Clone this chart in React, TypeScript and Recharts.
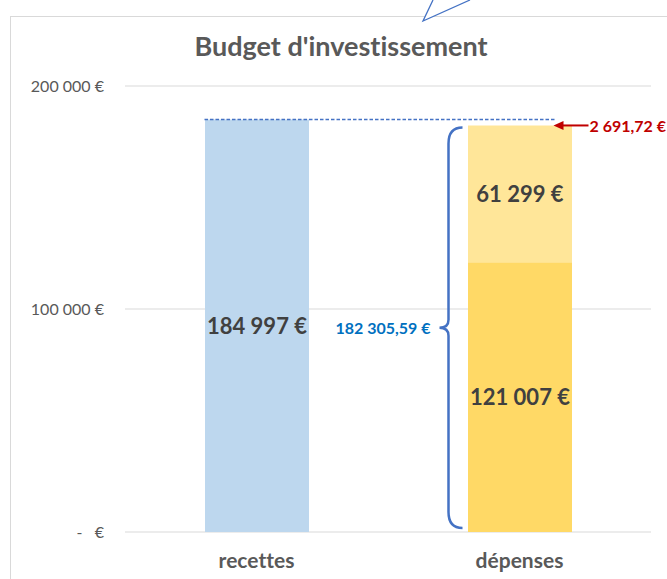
import React from "react";
import {
  BarChart, Bar, XAxis, YAxis, CartesianGrid, LabelList, ReferenceLine,
} from "recharts";

const categories = ["recettes", "dépenses"];
const recettes = [184997.31, null];
const depensesRealisees = [null, 121006.59];
const depensesRestantes = [null, 61299];
const totalDepenses = 182305.59;
const ecart = 2691.72;
const yTicks = [0, 100000, 200000];

const FONT = "Lato, 'Noto Sans', sans-serif";
const BAR_SIZE = 104;

const chartData = categories.map((cat, i) => ({
  cat,
  recettes: recettes[i],
  realisees: depensesRealisees[i],
  restantes: depensesRestantes[i],
}));

const spaced = (n: number) => n.toString().replace(/\B(?=(\d{3})+(?!\d))/g, " ");

const formatEuro = (v: unknown) => {
  if (v == null || v === 0) return "";
  return `${spaced(Math.round(Number(v)))} €`;
};

const formatDecimal = (v: number) => {
  const [int, dec] = v.toFixed(2).split(".");
  return `${spaced(Number(int))},${dec} €`;
};

// Excel accounting style: zero shows as a dash
const formatTick = (v: number) => (v === 0 ? "-\u00a0\u00a0\u00a0€" : `${spaced(v)} €`);

// dotted line from the top of "recettes" across to "dépenses"
const DashedLink = (p: any) => (
  <line x1={p.x1 - BAR_SIZE / 2} y1={p.y1} x2={p.x2 + 36} y2={p.y2}
    stroke="#4472c4" strokeWidth={1.6} strokeDasharray="3.5 2" />
);

// curly brace to the left of the "dépenses" stack
const Brace = (p: any) => {
  const x = p.x1 - BAR_SIZE / 2 - 19;
  const top = Math.min(p.y1, p.y2) + 2;
  const bottom = Math.max(p.y1, p.y2) - 4;
  const mid = (top + bottom) / 2;
  const d = `M ${x + 14} ${top} Q ${x} ${top} ${x} ${top + 16} L ${x} ${mid - 8} Q ${x} ${mid} ${x - 9} ${mid} Q ${x} ${mid} ${x} ${mid + 8} L ${x} ${bottom - 16} Q ${x} ${bottom} ${x + 14} ${bottom}`;
  return (
    <g>
      <path d={d} fill="none" stroke="#4472c4" strokeWidth={2.5} />
      <text x={x - 18} y={mid} textAnchor="end" dominantBaseline="central"
        fill="#0070c0" fontFamily={FONT} fontWeight="bold" fontSize={16}>
        {formatDecimal(totalDepenses)}
      </text>
    </g>
  );
};

// red arrow pointing at the top of "dépenses" with the gap
const GapArrow = (p: any) => {
  const tip = p.x1 + 34;
  const y = p.y1;
  return (
    <g>
      <line x1={tip + 4} y1={y} x2={tip + 35} y2={y} stroke="#c00000" strokeWidth={2} />
      <path d={`M ${tip} ${y} L ${tip + 10} ${y - 4.5} L ${tip + 10} ${y + 4.5} Z`} fill="#c00000" />
      <text x={tip + 36} y={y} dominantBaseline="central" fill="#c00000"
        fontFamily={FONT} fontWeight="bold" fontSize={16}>
        {formatDecimal(ecart)}
      </text>
    </g>
  );
};

export default function App() {
  return (
    <div style={{
      position: "absolute", left: 0, top: 0, width: 667, height: 579, background: "#fff",
      fontFamily: FONT, overflow: "hidden", fontVariantLigatures: "none",
    }}>
      <div style={{
        position: "absolute", left: 10, top: 16, width: 680, height: 600,
        borderLeft: "1px solid #d9d9d9", borderTop: "1px solid #d9d9d9",
      }} />
      <svg width={667} height={30} style={{ position: "absolute", left: 0, top: 0 }}>
        <path d="M 433 0 L 423 21 L 470 0" fill="#fff" stroke="#4472c4" strokeWidth={1.3} />
      </svg>
      <div style={{
        position: "absolute", left: 10, width: 662, top: 29, textAlign: "center",
        fontSize: 27, lineHeight: "34px", fontWeight: "bold", color: "#595959",
      }}>
        Budget d'investissement
      </div>
      <div style={{ position: "absolute", left: 0, top: 0 }}>
        <BarChart width={667} height={579} data={chartData}
          margin={{ top: 86, right: 16, bottom: 0, left: 0 }} barSize={BAR_SIZE}>
          <CartesianGrid vertical={false} stroke="#d9d9d9" />
          <XAxis dataKey="cat" height={47} axisLine={false} tickLine={false} tickSize={0} tickMargin={21}
            tick={{ fontSize: 21, fontWeight: "bold", fill: "#595959", fontFamily: FONT }} />
          <YAxis width={125} domain={[0, 200000]} ticks={yTicks} axisLine={false} tickLine={false}
            tickSize={0} tickMargin={21} tickFormatter={formatTick}
            tick={{ fontSize: 16, fill: "#595959", fontFamily: FONT }} />
          <Bar dataKey="recettes" stackId="s" fill="#bdd7ee" isAnimationActive={false}>
            <LabelList dataKey="recettes" position="center" formatter={formatEuro}
              fill="#404040" fontSize={22} fontWeight="bold" fontFamily={FONT} />
          </Bar>
          <Bar dataKey="realisees" stackId="s" fill="#ffd966" isAnimationActive={false}>
            <LabelList dataKey="realisees" position="center" formatter={formatEuro}
              fill="#404040" fontSize={22} fontWeight="bold" fontFamily={FONT} />
          </Bar>
          <Bar dataKey="restantes" stackId="s" fill="#ffe699" isAnimationActive={false}>
            <LabelList dataKey="restantes" position="center" formatter={formatEuro}
              fill="#404040" fontSize={22} fontWeight="bold" fontFamily={FONT} />
          </Bar>
          <ReferenceLine ifOverflow="visible"
            segment={[{ x: "recettes", y: recettes[0] }, { x: "dépenses", y: recettes[0] }]}
            shape={DashedLink} />
          <ReferenceLine ifOverflow="visible"
            segment={[{ x: "dépenses", y: 0 }, { x: "dépenses", y: totalDepenses }]}
            shape={Brace} />
          <ReferenceLine ifOverflow="visible"
            segment={[{ x: "dépenses", y: totalDepenses }, { x: "dépenses", y: totalDepenses }]}
            shape={GapArrow} />
        </BarChart>
      </div>
    </div>
  );
}
